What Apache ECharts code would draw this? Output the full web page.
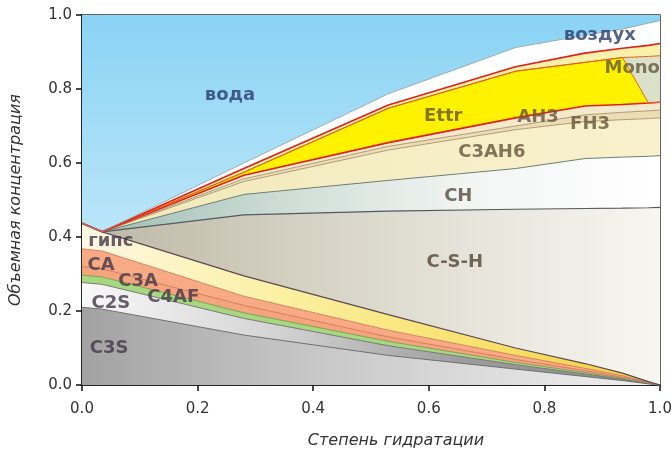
<!DOCTYPE html>
<html><head><meta charset="utf-8">
<script src="https://cdn.jsdelivr.net/npm/echarts@6/dist/echarts.min.js"></script>
<style>html,body{margin:0;padding:0;background:#fff}#c{width:671px;height:455px}</style>
</head><body><div id="c"></div>
<script>
// degree of hydration (x)
const hydration = [0, 0.035, 0.28, 0.53, 0.75, 0.87, 0.935, 0.98, 1.0];
// volume fraction of each phase (stacked from the bottom)
const C3S   = [0.21, 0.205, 0.135, 0.08, 0.043, 0.023, 0.012, 0.003, 0];
const C2S   = [0.067, 0.067, 0.045, 0.026, 0.012, 0.007, 0.004, 0.001, 0];
const C4AF  = [0.02, 0.02, 0.015, 0.012, 0.006, 0.004, 0.002, 0.001, 0];
const C3A   = [0.023, 0.022, 0.02, 0.012, 0.008, 0.005, 0.003, 0.001, 0];
const CA    = [0.048, 0.048, 0.025, 0.018, 0.011, 0.006, 0.004, 0.001, 0];
const gyps  = [0.069, 0.052, 0.055, 0.042, 0.02, 0.013, 0.007, 0.002, 0];
const CSH   = [0, 0, 0.165, 0.28, 0.375, 0.419, 0.446, 0.47, 0.48];
const CH    = [0, 0, 0.055, 0.083, 0.11, 0.135, 0.138, 0.139, 0.14];
const C3AH6 = [0, 0, 0.035, 0.082, 0.105, 0.10, 0.101, 0.102, 0.102];
const FH3   = [0, 0, 0.007, 0.01, 0.01, 0.018, 0.02, 0.021, 0.021];
const AH3   = [0, 0, 0.01, 0.01, 0.022, 0.024, 0.021, 0.021, 0.021];
const Ettr  = [0, 0, 0.008, 0.093, 0.126, 0.118, 0.127, 0, 0];
const Mono  = [0, 0, 0, 0, 0, 0, 0, 0.126, 0.126];
const other = [0, 0, 0.01, 0.009, 0.012, 0.025, 0.025, 0.03, 0.033];
const air   = [0, 0, 0.015, 0.03, 0.052, 0.048, 0.052, 0.06, 0.062];
const water = [0.563, 0.586, 0.40, 0.215, 0.088, 0.055, 0.038, 0.022, 0.015];

// in-chart labels
const labelNames = ['вода','воздух','Mono','Ettr','AH3','FH3','C3AH6','CH','C-S-H','гипс','CA','C3A','C4AF','C2S','C3S'];
const labelX = [0.256,0.896,0.952,0.625,0.789,0.879,0.709,0.651,0.645,0.05,0.033,0.097,0.158,0.05,0.047];
const labelY = [0.784,0.946,0.857,0.727,0.724,0.705,0.63,0.511,0.332,0.389,0.324,0.281,0.238,0.222,0.10];
const labelColors = ['#2b3b6e','#2b3b6e','#65573f','#665526','#65553b','#65553b','#65553b','#554c3c','#554534','#433748','#433748','#433748','#433748','#433748','#433748'];

const G = echarts.graphic.LinearGradient;
const hg = (stops) => new G(0,0,1,0, stops.map((c,i)=>({offset:i/(stops.length-1), color:c})));

// bottom -> top
const layers = [
  ['C3S', C3S, hg(['#a2a2a2','#c2c2c2','#dadada','#f0f0f0']), '#6f6f6f', 1],
  ['C2S', C2S, hg(['#f8f8f8','#d4d4d4','#9c9c9c','#888888']), '#7a7a7a', 1],
  ['C4AF', C4AF, '#a7d77f', '#6f9a55', 0.8],
  ['C3A', C3A, '#f6a47e', '#c9765a', 0.8],
  ['CA', CA, '#f8aa85', '#c9765a', 0.8],
  ['гипс', gyps, hg(['#fdf8e4','#fbf0a4','#f8e270','#f4cf3c']), '#5b4a4f', 1.2],
  ['C-S-H', CSH, hg(['#bcb7a5','#d2cebf','#e6e4da','#f7f6f0']), '#555a5c', 1.2],
  ['CH', CH, hg(['#9cbab0','#cbdcd5','#f2f5f3','#ffffff']), '#6f7f74', 1],
  ['C3AH6', C3AH6, hg(['#f1e8b8','#f5edc4','#f8f1cc']), '#9a8c6c', 0.8],
  ['FH3', FH3, '#eedcb2', '#9a8c70', 0.8],
  ['AH3', AH3, '#f4eacb', '#e0201a', 1.6],
  ['Ettr', Ettr, '#fff200', '#e2661c', 1],
  ['Mono', Mono, new G(0,1,1,0,[{offset:0,color:'#98aa78'},{offset:1,color:'#dde3cb'}]), '#e2661c', 1],
  ['other', other, '#fbf0aa', '#e0201a', 1.6],
  ['воздух', air, '#ffffff', '#8a9ea6', 0.8],
  ['вода', water, new G(0,0,0,1,[{offset:0,color:'#8ad3f4'},{offset:1,color:'#dcf2fb'}]), null, 0]
];

// cumulative tops
const running = hydration.map(() => 0);
const tops = layers.map(l => l[1].map((v, i) => (running[i] += v)));

const series = [];
// areas: draw from top layer down, each filled to the axis
for (let k = layers.length - 1; k >= 0; k--) {
  const [name, , fill] = layers[k];
  series.push({
    name: name + '_area', type: 'line', symbol: 'none', silent: true, z: 1,
    data: hydration.map((x, i) => [x, tops[k][i]]),
    lineStyle: {width: 0},
    areaStyle: {color: fill, opacity: 1, origin: 'start'}
  });
}
// boundary lines on top
layers.forEach(([name, , , lc, lw], k) => {
  if (!lc) return;
  series.push({
    name: name + '_line', type: 'line', symbol: 'none', silent: true, z: 3,
    data: hydration.map((x, i) => [x, tops[k][i]]),
    lineStyle: {color: lc, width: lw}
  });
});

series.push({
  type: 'scatter', silent: true, symbolSize: 1, z: 10,
  itemStyle: {color: 'rgba(0,0,0,0)'},
  data: labelNames.map((n, i) => ({
    name: n, value: [labelX[i], labelY[i]],
    label: {color: labelColors[i]}
  })),
  label: {
    show: true, position: 'inside', formatter: p => p.name,
    fontFamily: 'DejaVu Sans', fontWeight: 'bold', fontSize: 18
  }
});

const chart = echarts.init(document.getElementById('c'), null, {renderer: 'canvas'});
chart.setOption({
  animation: false,
  backgroundColor: '#ffffff',
  grid: {left: 82, right: 11, top: 15, bottom: 70, show: true, borderColor: '#333', borderWidth: 1.5,
         backgroundColor: 'transparent', containLabel: false, outerBoundsMode: 'none'},
  xAxis: {
    type: 'value', min: 0, max: 1, interval: 0.2,
    name: 'Степень гидратации', nameLocation: 'middle', nameGap: 48,
    nameTextStyle: {fontFamily: 'DejaVu Sans', fontStyle: 'italic', fontSize: 16, color: '#333', padding: [0,0,0,50]},
    axisLine: {show: true, onZero: false, lineStyle: {color: '#111', width: 1.5}},
    axisTick: {show: true, inside: false, length: 6, lineStyle: {color: '#111', width: 1.5}},
    axisLabel: {formatter: v => v.toFixed(1), fontFamily: 'DejaVu Sans', fontSize: 15, color: '#333', margin: 17, showMaxLabel: true},
    splitLine: {show: false}
  },
  yAxis: {
    type: 'value', min: 0, max: 1, interval: 0.2,
    name: 'Объемная концентрация', nameLocation: 'middle', nameGap: 58, nameRotate: 90,
    nameTextStyle: {fontFamily: 'DejaVu Sans', fontStyle: 'italic', fontSize: 16, color: '#333'},
    axisLine: {show: true, onZero: false, lineStyle: {color: '#111', width: 1.5}},
    axisTick: {show: true, inside: false, length: 6, lineStyle: {color: '#111', width: 1.5}},
    axisLabel: {formatter: v => v.toFixed(1), fontFamily: 'DejaVu Sans', fontSize: 15, color: '#333', margin: 10},
    splitLine: {show: false}
  },
  series
});
</script></body></html>
